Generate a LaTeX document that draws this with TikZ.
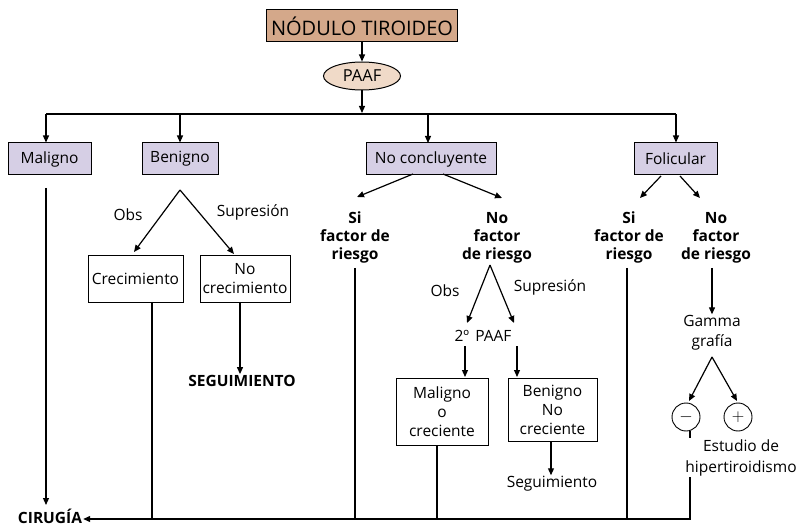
\documentclass[tikz,border=0pt]{standalone}
\usepackage{fontspec}
\setmainfont{Open Sans}
\usetikzlibrary{arrows.meta,shapes.geometric,calc}
\definecolor{tan}{RGB}{212,168,138}
\definecolor{peach}{RGB}{240,218,200}
\definecolor{lav}{RGB}{214,207,229}
\tikzset{
  every node/.style={font=\fontsize{15.5}{18}\selectfont, inner sep=1pt},
  ln/.style={line width=1.2pt},
  arr/.style={line width=1.2pt,-{Triangle[length=7pt,width=6pt]}},
  catbox/.style={draw,line width=1pt,fill=lav,minimum height=32pt,inner xsep=4pt},
  wbox/.style={draw,line width=0.9pt,fill=white,align=center,inner xsep=0pt,font=\fontsize{15.5}{19}\selectfont},
  bold/.style={font=\fontsize{15.5}{18}\selectfont\bfseries,align=center},
  lbl/.style={font=\fontsize{15.5}{18}\selectfont,align=center},
  circ/.style={draw,circle,line width=0.9pt,minimum size=28pt,inner sep=0pt,font=\fontsize{18}{20}\selectfont}
}
\begin{document}
\begin{tikzpicture}[x=1pt,y=-1pt]
\useasboundingbox (0,0) rectangle (797,526);
% top
\node[draw,line width=1pt,fill=tan,minimum width=191pt,minimum height=32pt,font=\fontsize{20}{22}\selectfont] (nod) at (362,26) {NÓDULO TIROIDEO};
\node[draw,ellipse,line width=1pt,fill=peach,minimum width=77pt,minimum height=28pt,inner sep=0pt,font=\fontsize{16.5}{18}\selectfont] (paaf) at (362,76) {PAAF};
\coordinate (top) at (362,114);
\coordinate (tl) at (46,114);
\coordinate (tr) at (676,114);
\draw[arr] (nod) -- (paaf);
\draw[arr] (paaf) -- ($(top)+(0,-1)$);
\draw[ln] (tl) -- (tr);
% categories
\node[catbox,minimum width=83pt] (mal) at (49.5,159) {Maligno};
\node[catbox,minimum width=76pt] (ben) at (180,159) {Benigno};
\node[catbox,minimum width=130pt] (nc) at (431,159) {No concluyente};
\node[catbox,minimum width=83pt] (fol) at (675.5,159) {Folicular};
\draw[arr] (tl) -- (tl |- mal.north);
\draw[arr] (ben.north |- top) -- (ben.north);
\draw[arr] (428,114) -- (428,143);
\draw[arr] (tr) -- (tr |- fol.north);
% bottom
\node[bold,anchor=base] (cir) at (50,523) {CIRUGÍA};
\coordinate (bl) at (690,519);
% Maligno
\draw[arr] (46,188) -- (46,505);
% Benigno branch
\coordinate (bap) at (180,190);
\node[wbox,minimum width=95pt,minimum height=47pt] (cre) at (135.5,278.5) {Crecimiento};
\node[wbox,minimum width=90pt,minimum height=47pt] (ncre) at (245,278.5) {No\\crecimiento};
\draw[arr] (bap) -- (134,252);
\draw[arr] (bap) -- (234,254);
\node[lbl] (obs1) at (128,215) {Obs};
\node[lbl] (sup1) at (253,212) {Supresión};
\node[bold] (seg1) at (242,381) {SEGUIMIENTO};
\draw[arr] (240,302) -- (seg1.north -| 240,0);
% No concluyente branch
\node[bold] (si1) at (355,237.5) {Si\\factor de\\riesgo};
\node[bold] (no1) at (497,237.5) {No\\factor\\de riesgo};
\draw[arr] (413,174) -- (357,197);
\draw[arr] (443,174) -- (502,198);
\coordinate (nap) at (490,265);
\draw[arr] (nap) -- (467,323);
\draw[arr] (nap) -- (514,323);
\node[lbl] (obs2) at (445,291) {Obs};
\node[lbl] (sup2) at (550,287) {Supresión};
\node[lbl] (paaf2) at (483,336) {2º{}\hspace{6pt}PAAF};
\node[wbox,minimum width=92pt,minimum height=67pt] (mc) at (442,411.5) {Maligno\\o\\creciente};
\node[wbox,minimum width=89pt,minimum height=63pt] (bnc) at (552.5,409.5) {Benigno\\No\\creciente};
\draw[arr] (465,346) -- (465,377);
\draw[arr] (517,346) -- (517,377);
\node[lbl] (seg2) at (552,484) {Seguimiento};
\draw[arr] (551,441) -- (seg2.north -| 551,0);
% Folicular branch
\draw[arr] (661,176) -- (640,198);
\draw[arr] (680,176) -- (700,198);
\node[bold] (si2) at (629,237.5) {Si\\factor de\\riesgo};
\node[bold] (no2) at (716,237.5) {No\\factor\\de riesgo};
\node[lbl,font=\fontsize{15.5}{20}\selectfont] (gam) at (712,333) {Gamma\\grafía};
\draw[arr] (712,268) -- (gam.north -| 712,0);
\coordinate (gap) at (712,357);
\node[circ] (minus) at (686,417) {$-$};
\node[circ] (plus) at (738,417) {$+$};
\draw[arr] (gap) -- (689,401);
\draw[arr] (gap) -- (737,401);
% lines to surgery
\draw[ln] (152,302) -- (152,519);
\draw[ln] (355,268) -- (355,519);
\draw[ln] (437,445) -- (437,519);
\draw[ln] (627,268) -- (627,519);
\draw[arr] (minus.south -| 690,0) -- (bl) -- (cir.east |- bl);
\node[lbl,fill=white,inner ysep=1pt,font=\fontsize{15.5}{21}\selectfont] (est) at (741,457.5) {Estudio de\\hipertiroidismo};
\end{tikzpicture}
\end{document}
